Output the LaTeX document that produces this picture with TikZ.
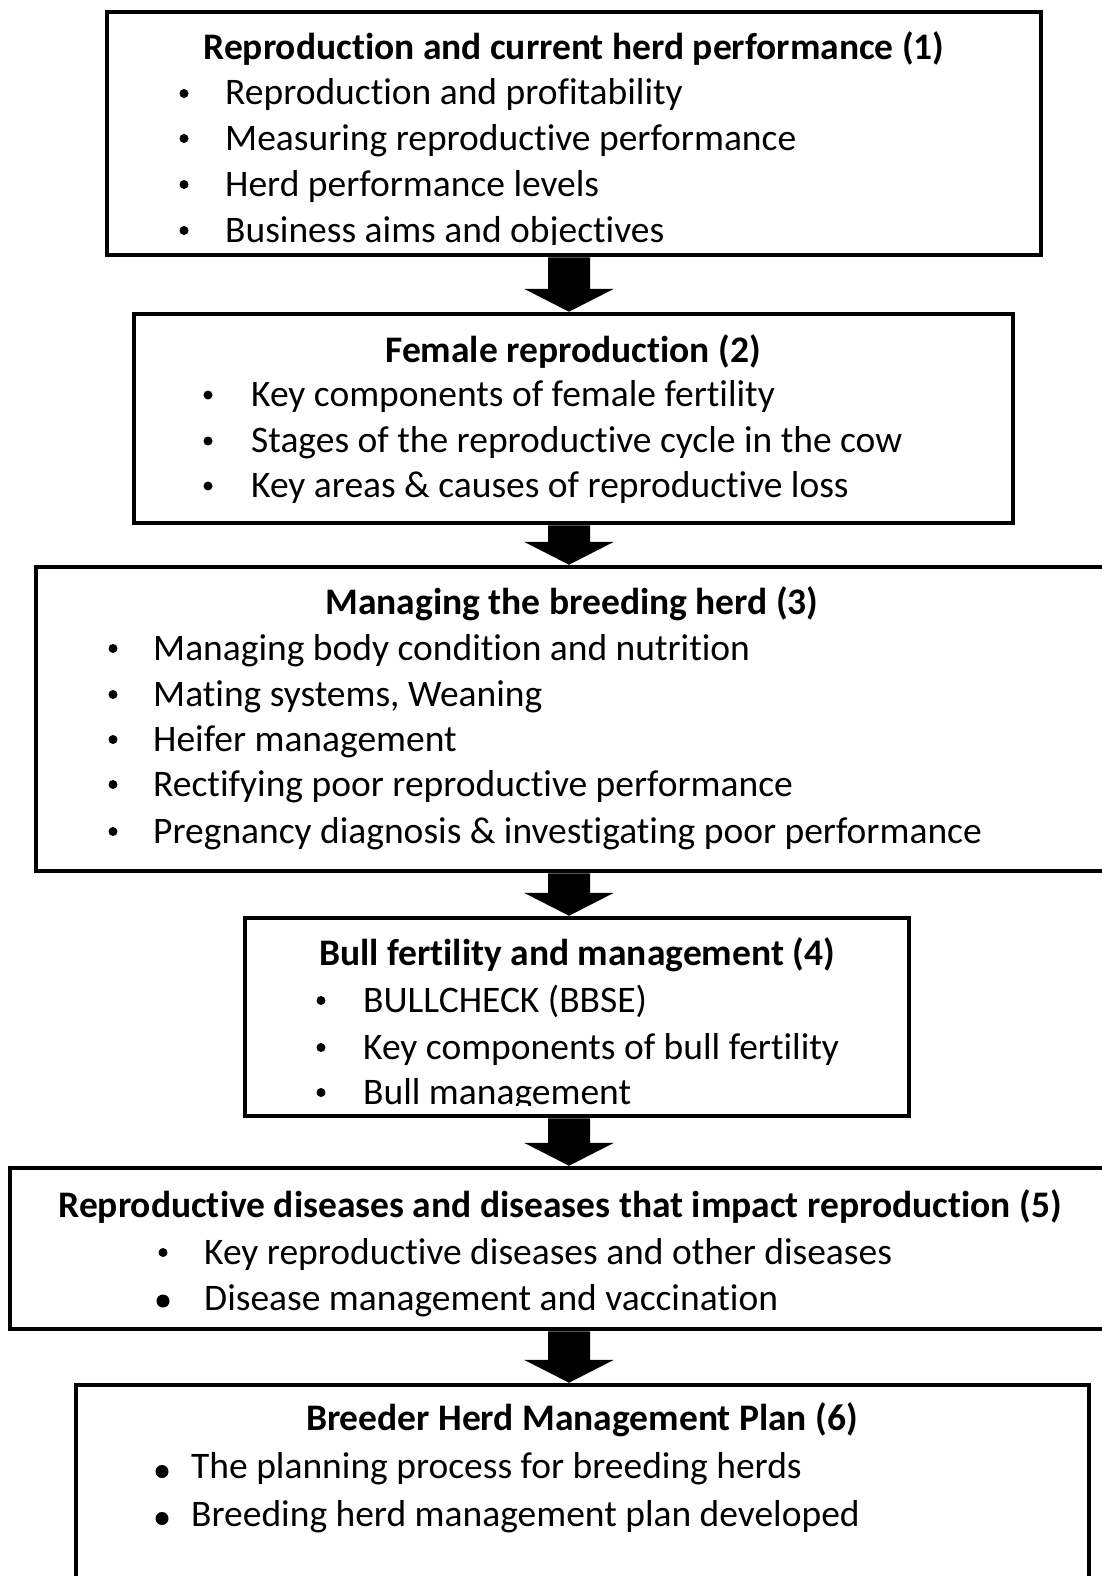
\documentclass[tikz,border=0pt]{standalone}
\usepackage{fontspec}
\setmainfont{Carlito}[Ligatures={NoCommon}]
\usetikzlibrary{calc}
\tikzset{
  box/.style={draw, line width=4.5pt, inner sep=0pt},
  ttl/.style={anchor=base, font=\fontsize{37.5}{44}\selectfont\bfseries, inner sep=0pt},
  itm/.style={anchor=base west, font=\fontsize{37.5}{44}\selectfont, inner sep=0pt},
  bul/.style={circle, fill, inner sep=0pt, minimum size=9pt},
  bigbul/.style={circle, fill, inner sep=0pt, minimum size=13pt},
}
\newcommand\flowarrow[2]{%
  \fill let \p1=(#1.south), \p2=(#2.north) in
    (548,\y1) -- (590,\y1) -- (590,\y2+23) -- (614,\y2+23) -- (569,\y2)
    -- (524,\y2+23) -- (548,\y2+23) -- cycle;}
\begin{document}
\begin{tikzpicture}[x=1pt,y=-1pt]
\clip (0,0) rectangle (1102,1576);
\fill[white] (0,0) rectangle (1102,1576);

% boxes
\node[box, minimum width=934pt, minimum height=243pt] (b1) at (574,133.5) {};
\node[box, minimum width=879pt, minimum height=209pt] (b2) at (573.5,418.5) {};
\node[box, minimum width=1084pt, minimum height=304pt] (b3) at (578,719) {};
\node[box, minimum width=664pt, minimum height=198pt] (b4) at (577,1017) {};
\node[box, minimum width=1110pt, minimum height=161pt] (b5) at (565,1248.5) {};
\node[box, minimum width=1013pt, minimum height=215pt] (b6) at (582.5,1492.5) {};

% arrows
\flowarrow{b1}{b2}
\flowarrow{b2}{b3}
\flowarrow{b3}{b4}
\flowarrow{b4}{b5}
\flowarrow{b5}{b6}

% box 1
\node[ttl] (t1) at (574,60) {Reproduction and current herd performance (1)};
\node[bul] (u11) at (184,93.5) {};
\node[itm] (i11) at (225,105) {Reproduction and profitability};
\node[bul] (u12) at (184,138.5) {};
\node[itm] (i12) at (225,150) {Measuring reproductive performance};
\node[bul] (u13) at (184,184.5) {};
\node[itm] (i13) at (225,196) {Herd performance levels};
\node[bul] (u14) at (184,230.5) {};
\begin{scope}
\clip (0,0) rectangle (1102,244);
\node[itm] (i14) at (225,242) {Business aims and objectives};
\end{scope}

% box 2
\node[ttl] (t2) at (573,362.5) {Female reproduction (2)};
\node[bul] (u21) at (208,395) {};
\node[itm] (i21) at (251,406.5) {Key components of female fertility};
\node[bul] (u22) at (208,441) {};
\node[itm] (i22) at (251,452.5) {Stages of the reproductive cycle in the cow};
\node[bul] (u23) at (208,486) {};
\node[itm] (i23) at (251,497.5) {Key areas \& causes of reproductive loss};

% box 3
\node[ttl] (t3) at (572,614) {Managing the breeding herd (3)};
\node[bul] (u31) at (113,648.5) {};
\node[itm] (i31) at (153,660) {Managing body condition and nutrition};
\node[bul] (u32) at (113,694.5) {};
\node[itm] (i32) at (153,706) {Mating systems, Weaning};
\node[bul] (u33) at (113,739.5) {};
\node[itm] (i33) at (153,751) {Heifer management};
\node[bul] (u34) at (113,784.5) {};
\node[itm] (i34) at (153,796) {Rectifying poor reproductive performance};
\node[bul] (u35) at (113,831.5) {};
\node[itm] (i35) at (153,843) {Pregnancy diagnosis \& investigating poor performance};

% box 4
\node[ttl] (t4) at (577,965) {Bull fertility and management (4)};
\node[bul] (u41) at (321,1000.5) {};
\node[itm] (i41) at (363,1012) {BULLCHECK (BBSE)};
\node[bul] (u42) at (321,1047.5) {};
\node[itm] (i42) at (363,1059) {Key components of bull fertility};
\node[bul] (u43) at (321,1092.5) {};
\begin{scope}
\clip (0,900) rectangle (1102,1105);
\node[itm] (i43) at (363,1104) {Bull management};
\end{scope}

% box 5
\node[ttl] (t5) at (560,1217) {Reproductive diseases and diseases that impact reproduction (5)};
\node[bul] (u51) at (163,1252.5) {};
\node[itm] (i51) at (204,1264) {Key reproductive diseases and other diseases};
\node[bigbul] (u52) at (163,1301) {};
\node[itm] (i52) at (204,1310) {Disease management and vaccination};

% box 6
\node[ttl] (t6) at (582,1430.5) {Breeder Herd Management Plan (6)};
\node[bigbul] (u61) at (162,1471.5) {};
\node[itm] (i61) at (191,1478.5) {The planning process for breeding herds};
\node[bigbul] (u62) at (162,1518.5) {};
\node[itm] (i62) at (191,1526.5) {Breeding herd management plan developed};
\end{tikzpicture}
\end{document}
